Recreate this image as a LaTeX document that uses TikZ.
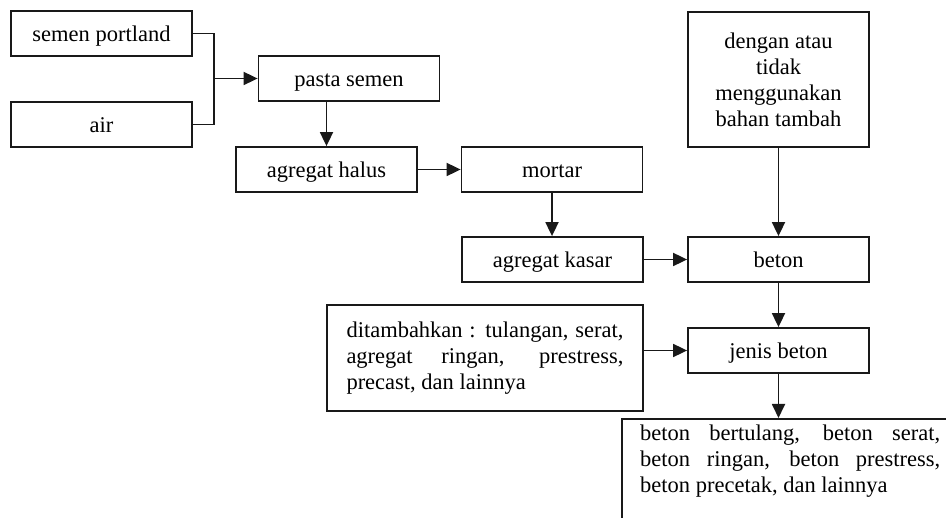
\documentclass[tikz,border=0pt]{standalone}
\usepackage{fontspec}
\setmainfont{Liberation Serif}
\usetikzlibrary{arrows.meta}
\begin{document}
\begin{tikzpicture}[x=1pt,y=-1pt,
  every node/.style={font=\fontsize{22.5}{26}\selectfont},
  box/.style={draw=black!90,line width=1.8pt,minimum width=181pt,minimum height=45pt,inner sep=0pt},
  sbox/.style={box,text height=20pt,text depth=4pt},
  conn/.style={draw=black!90,line width=1.8pt},
  arr/.style={conn,-{Triangle[length=14pt,width=13pt]}}]
\useasboundingbox (0,0) rectangle (946,518);
\clip (0,0) rectangle (946,518);
\node[sbox] (sp) at (101.5,33.5) {semen portland};
\node[sbox] (air) at (101.5,124.5) {air};
\node[sbox] (pasta) at (349,78.5) {pasta semen};
\node[sbox] (halus) at (326.5,169.5) {agregat halus};
\node[sbox] (mortar) at (552,169.5) {mortar};
\node[box,minimum height=135pt,align=center] (dengan) at (778.5,79.5) {dengan atau\\tidak\\menggunakan\\bahan tambah};
\node[sbox] (kasar) at (552.5,259.5) {agregat kasar};
\node[sbox] (beton) at (778.5,259.5) {beton};
\node[box,minimum width=316pt,minimum height=106pt,text width=277pt,align=justify] (tambah) at (485,358)
  {ditambahkan : tulangan, serat,\linebreak agregat ringan, prestress,\linebreak precast, dan lainnya};
\node[sbox] (jenis) at (778.5,350.5) {jenis beton};
\node[box,anchor=north west,minimum width=360pt,minimum height=150pt] (last) at (621,418) {};
\node[anchor=north west,inner sep=0pt,text width=300pt,align=justify] (lasttext) at (640,425)
  {beton bertulang, beton serat,\linebreak beton ringan, beton prestress,\linebreak beton precetak, dan lainnya};
\coordinate (j) at (214,78.5);
\draw[conn] (sp.east) -| (j) |- (air.east);
\draw[arr] (j) -- (pasta.west);
\draw[arr] (halus.north |- pasta.south) -- (halus.north);
\draw[arr] (halus.east) -- (mortar.west);
\draw[arr] (mortar.south) -- (mortar.south |- kasar.north);
\draw[arr] (dengan.south) -- (beton.north);
\draw[arr] (kasar.east) -- (beton.west);
\draw[arr] (beton.south) -- (jenis.north);
\draw[arr] (jenis.west -| tambah.east) -- (jenis.west);
\draw[arr] (jenis.south) -- (jenis.south |- last.north);
\end{tikzpicture}
\end{document}
